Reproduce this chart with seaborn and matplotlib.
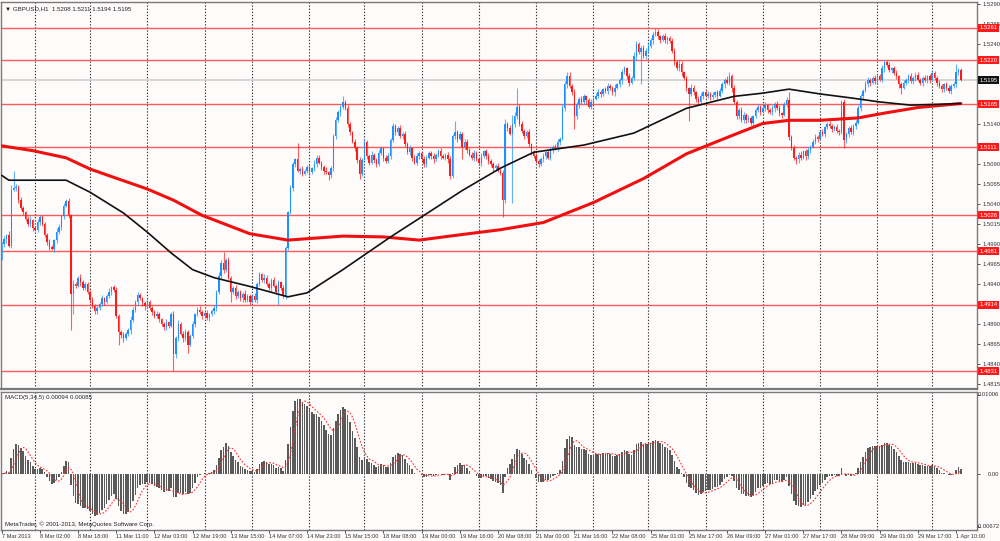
import numpy as np
import pandas as pd
import matplotlib
matplotlib.use("Agg")
import matplotlib.pyplot as plt
import matplotlib.transforms as mtransforms
import seaborn as sns

# GBPUSD H1, prices in pips: 5195 -> 1.5195
open_first = 4972
close_pips = [
    4990, 4996, 5001, 4988, 5058, 5060, 5062, 5045, 5035, 5030,
    5022, 5015, 5020, 5010, 5008, 5018, 5024, 5015, 5002, 4993,
    4986, 4984, 4995, 5005, 5012, 5025, 5038, 5044, 5026, 4927,
    4940, 4938, 4948, 4942, 4935, 4940, 4930, 4920, 4912, 4906,
    4910, 4915, 4922, 4918, 4925, 4930, 4936, 4932, 4900, 4880,
    4876, 4872, 4878, 4882, 4895, 4908, 4918, 4926, 4922, 4916,
    4912, 4918, 4910, 4905, 4900, 4902, 4896, 4890, 4886, 4892,
    4888, 4902, 4852, 4872, 4890, 4878, 4872, 4880, 4864, 4875,
    4890, 4902, 4908, 4905, 4900, 4904, 4898, 4902, 4906, 4910,
    4930, 4950, 4966, 4958, 4970, 4948, 4930, 4935, 4925, 4930,
    4922, 4928, 4920, 4925, 4918, 4925, 4920, 4940, 4952, 4945,
    4948, 4940, 4935, 4945, 4938, 4930, 4942, 4935, 4925, 4985,
    5030, 5060, 5090, 5096, 5082, 5084, 5078, 5082, 5086, 5080,
    5085, 5090, 5098, 5092, 5086, 5082, 5080, 5076, 5085, 5125,
    5145, 5155, 5162, 5168, 5160, 5140, 5130, 5118, 5110, 5095,
    5078, 5095, 5118, 5100, 5092, 5102, 5095, 5090, 5104, 5110,
    5098, 5094, 5100, 5120, 5138, 5130, 5135, 5125, 5128, 5115,
    5105, 5110, 5098, 5092, 5100, 5104, 5096, 5090, 5098, 5104,
    5100, 5096, 5102, 5106, 5100, 5098, 5102, 5096, 5075, 5125,
    5130, 5122, 5128, 5112, 5118, 5108, 5102, 5098, 5104, 5096,
    5092, 5100, 5106, 5100, 5094, 5090, 5085, 5088, 5082, 5079,
    5045, 5140, 5135, 5128, 5140, 5150, 5162, 5140, 5132, 5125,
    5130, 5115, 5105, 5100, 5094, 5090, 5096, 5100, 5105, 5098,
    5108, 5112, 5110, 5118, 5122, 5160, 5190, 5200, 5188, 5180,
    5150, 5165, 5172, 5168, 5175, 5170, 5162, 5168, 5172, 5176,
    5180, 5178, 5184, 5182, 5188, 5185, 5180, 5186, 5190, 5195,
    5205, 5210, 5200, 5192, 5198, 5225, 5240, 5230, 5236, 5226,
    5232, 5238, 5245, 5252, 5256, 5250, 5246, 5250, 5245, 5248,
    5244, 5232, 5218, 5210, 5216, 5205, 5198, 5185, 5178, 5186,
    5180, 5172, 5168, 5176, 5180, 5176, 5178, 5174, 5177, 5180,
    5176, 5182, 5190, 5196, 5192, 5200, 5185, 5168, 5150, 5158,
    5145, 5152, 5145, 5148, 5142, 5150, 5158, 5162, 5156, 5160,
    5164, 5158, 5155, 5160, 5166, 5160, 5154, 5152, 5165, 5170,
    5124, 5110, 5098, 5096, 5102, 5098, 5106, 5100, 5108, 5112,
    5118, 5124, 5122, 5130, 5128, 5136, 5140, 5138, 5134, 5136,
    5132, 5130, 5168, 5120, 5128, 5135, 5130, 5138, 5142, 5160,
    5175, 5182, 5190, 5196, 5192, 5198, 5194, 5200, 5196, 5210,
    5218, 5214, 5208, 5210, 5204, 5200, 5190, 5186, 5192, 5196,
    5200, 5194, 5198, 5202, 5196, 5192, 5198, 5195, 5200, 5196,
    5204, 5198, 5192, 5188, 5184, 5190, 5185, 5182, 5188, 5190,
    5206, 5208, 5195,
]
# wick length above / below the body, pips
wick_up = [
    3, 4, 2, 5, 6, 22, 3, 2, 4, 3,
    2, 3, 5, 2, 3, 4, 3, 2, 3, 2,
    4, 3, 2, 5, 3, 2, 4, 3, 4, 2,
    5, 3, 2, 4, 3, 2, 3, 2, 4, 3,
    2, 3, 4, 2, 3, 5, 2, 3, 4, 2,
    3, 4, 2, 3, 5, 3, 2, 4, 3, 2,
    3, 4, 2, 3, 2, 4, 3, 2, 3, 4,
    2, 3, 4, 3, 5, 2, 3, 4, 2, 3,
    4, 2, 3, 5, 2, 3, 4, 2, 3, 4,
    3, 5, 4, 14, 3, 4, 2, 3, 4, 2,
    3, 2, 4, 3, 2, 3, 4, 2, 3, 2,
    4, 3, 2, 3, 4, 2, 3, 2, 4, 3,
    2, 4, 3, 2, 21, 3, 4, 2, 3, 4,
    2, 5, 4, 3, 2, 3, 4, 2, 3, 3,
    4, 3, 2, 7, 3, 4, 3, 2, 4, 3,
    4, 3, 4, 2, 3, 4, 2, 3, 4, 3,
    2, 3, 4, 3, 4, 2, 3, 4, 2, 3,
    3, 4, 2, 3, 4, 2, 3, 4, 3, 2,
    3, 4, 2, 3, 4, 3, 2, 3, 4, 3,
    14, 3, 4, 2, 3, 4, 2, 3, 4, 2,
    3, 4, 2, 3, 4, 2, 3, 2, 4, 3,
    4, 6, 3, 4, 12, 5, 23, 3, 4, 2,
    3, 4, 2, 3, 4, 2, 3, 4, 2, 3,
    4, 2, 3, 4, 2, 5, 4, 5, 6, 3,
    4, 3, 2, 4, 3, 2, 3, 4, 2, 3,
    4, 3, 2, 3, 4, 2, 3, 4, 2, 3,
    4, 3, 2, 4, 3, 5, 4, 3, 2, 3,
    4, 5, 3, 3, 4, 3, 2, 3, 4, 2,
    3, 4, 3, 2, 4, 3, 2, 3, 2, 4,
    3, 2, 4, 3, 2, 3, 4, 2, 3, 2,
    3, 4, 3, 2, 4, 6, 3, 4, 3, 2,
    4, 3, 2, 4, 3, 2, 3, 4, 2, 3,
    4, 2, 3, 4, 2, 3, 4, 2, 3, 4,
    11, 3, 4, 2, 3, 4, 2, 3, 4, 2,
    3, 4, 2, 3, 4, 2, 3, 4, 2, 3,
    4, 2, 3, 4, 2, 3, 4, 2, 3, 4,
    3, 2, 4, 3, 2, 3, 4, 2, 3, 4,
    2, 3, 4, 2, 3, 4, 2, 3, 4, 2,
    3, 4, 2, 3, 4, 2, 3, 4, 2, 3,
    4, 3, 2, 4, 3, 2, 3, 4, 2, 3,
    10, 2, 3,
]
wick_dn = [
    2, 3, 4, 2, 3, 2, 4, 3, 2, 4,
    3, 2, 4, 3, 2, 3, 4, 2, 3, 4,
    3, 2, 4, 3, 2, 4, 3, 2, 3, 44,
    25, 3, 2, 4, 3, 2, 3, 4, 2, 3,
    4, 2, 3, 4, 2, 3, 4, 2, 3, 16,
    3, 4, 2, 3, 4, 2, 3, 4, 2, 3,
    4, 2, 3, 4, 2, 3, 4, 2, 3, 4,
    3, 2, 21, 4, 3, 2, 4, 3, 10, 2,
    3, 4, 2, 3, 4, 2, 3, 4, 2, 3,
    4, 3, 2, 4, 3, 2, 13, 3, 4, 2,
    3, 4, 2, 3, 4, 2, 3, 4, 2, 3,
    4, 2, 3, 4, 2, 3, 16, 2, 3, 4,
    3, 2, 4, 3, 2, 4, 3, 2, 3, 4,
    2, 3, 4, 2, 3, 4, 2, 6, 3, 4,
    3, 2, 4, 3, 2, 3, 4, 2, 3, 4,
    6, 3, 2, 4, 3, 2, 3, 4, 2, 3,
    4, 2, 3, 4, 2, 3, 4, 2, 3, 4,
    2, 3, 4, 2, 3, 4, 2, 3, 4, 2,
    3, 4, 2, 3, 4, 2, 3, 4, 3, 2,
    3, 4, 2, 16, 3, 4, 2, 3, 4, 2,
    3, 4, 2, 3, 4, 2, 3, 4, 2, 3,
    21, 3, 4, 2, 86, 3, 4, 2, 3, 4,
    2, 3, 4, 2, 3, 4, 2, 3, 4, 2,
    3, 4, 2, 3, 4, 2, 3, 4, 2, 3,
    16, 3, 4, 2, 3, 4, 2, 3, 4, 2,
    3, 4, 2, 3, 4, 2, 3, 4, 2, 3,
    4, 2, 3, 4, 2, 3, 4, 2, 40, 3,
    4, 2, 3, 4, 2, 3, 4, 2, 3, 4,
    2, 3, 4, 2, 3, 4, 2, 3, 34, 2,
    3, 4, 2, 3, 4, 2, 3, 4, 2, 3,
    4, 2, 3, 4, 2, 3, 4, 2, 3, 4,
    2, 3, 4, 2, 3, 4, 2, 3, 4, 2,
    3, 4, 2, 3, 4, 2, 3, 4, 2, 3,
    4, 2, 3, 6, 4, 3, 2, 5, 3, 4,
    2, 3, 4, 2, 3, 4, 2, 3, 4, 2,
    3, 4, 2, 10, 3, 4, 2, 3, 4, 2,
    3, 4, 2, 3, 4, 2, 3, 4, 2, 3,
    4, 2, 3, 4, 2, 3, 4, 8, 2, 3,
    4, 2, 3, 4, 2, 3, 4, 2, 3, 4,
    2, 3, 4, 2, 3, 4, 2, 3, 4, 2,
    3, 4, 1,
]

# moving averages (bar index, pips)
ma_black_bar = [0, 3, 27, 37, 51, 61, 71, 80, 89, 104, 120, 128, 143, 163, 177,
                193, 209, 223, 244, 265, 287, 307, 319, 330, 343, 356, 368, 381, 392, 402]
ma_black = [5076, 5070, 5070, 5055, 5029, 5005, 4979, 4958, 4948, 4937, 4924, 4929, 4958, 4999, 5026,
            5057, 5085, 5105, 5114, 5129, 5160, 5175, 5179, 5184, 5178, 5173, 5168, 5164, 5165, 5166]
ma_red_bar = [0, 13, 27, 37, 61, 72, 84, 104, 120, 143, 160, 175, 193, 209, 227,
              248, 269, 287, 307, 319, 330, 343, 359, 370, 384, 402]
ma_red = [5113, 5107, 5098, 5084, 5059, 5045, 5026, 5003, 4995, 5000, 4999, 4995, 5002, 5008, 5017,
          5042, 5072, 5103, 5127, 5141, 5145, 5145, 5148, 5154, 5161, 5166]

levels = [1.5261, 1.5220, 1.5165, 1.5111, 1.5026, 1.4981, 1.4914, 1.4831]
bid = 1.5195
price_ticks = [1.5290, 1.5265, 1.5240, 1.5140, 1.5090, 1.5065, 1.5040,
               1.5015, 1.4990, 1.4965, 1.4940, 1.4890, 1.4865, 1.4840, 1.4815]
macd_ticks = [0.01006, 0.0, -0.00672]
macd_tick_labels = ["0.01006", "0.00", "-0.00672"]
day_lines = [14, 37, 61, 85, 105, 129, 152, 176, 200, 224, 248, 271, 295, 319, 343, 367, 390]
time_labels = ["7 Mar 2013", "8 Mar 02:00", "8 Mar 18:00", "11 Mar 11:00", "12 Mar 03:00",
               "12 Mar 19:00", "13 Mar 15:00", "14 Mar 07:00", "14 Mar 23:00", "15 Mar 15:00",
               "18 Mar 08:00", "19 Mar 00:00", "19 Mar 16:00", "20 Mar 08:00", "21 Mar 00:00",
               "21 Mar 16:00", "22 Mar 08:00", "25 Mar 01:00", "25 Mar 17:00", "26 Mar 09:00",
               "27 Mar 01:00", "27 Mar 17:00", "28 Mar 09:00", "29 Mar 01:00", "29 Mar 17:00",
               "1 Apr 10:00"]

sns.set_theme(style="white")
plt.rcParams['font.family'] = ['Liberation Sans', 'DejaVu Sans']

n = len(close_pips)
idx = np.arange(n)
c = np.array(close_pips) / 10000 + 1
o = np.concatenate([[open_first / 10000 + 1], c[:-1]])
hi = np.maximum(o, c) + np.array(wick_up) / 10000
lo = np.minimum(o, c) - np.array(wick_dn) / 10000
up = c >= o

df = pd.DataFrame({"bar": idx, "close": c})
fast = df["close"].ewm(span=5, adjust=False).mean()
slow = df["close"].ewm(span=34, adjust=False).mean()
df["macd"] = fast - slow
df["signal"] = df["macd"].rolling(5, min_periods=1).mean()

bg = "#fefbfb"
fs = 4.2
fig = plt.figure(figsize=(10, 5.41), dpi=100, facecolor=bg)
ax = fig.add_axes([0.001, 1 - 389 / 541, 0.976, 387 / 541], facecolor=bg)
axm = fig.add_axes([0.001, 1 - 530 / 541, 0.976, 138 / 541], facecolor=bg, sharex=ax)

x0, x1 = -0.3, 408.8
for a in (ax, axm):
    for d in day_lines:
        a.axvline(d, color="#333333", lw=0.8, ls=(0, (1.2, 1.6)), zorder=1)
    for s in a.spines.values():
        s.set_color("#7a7a7a")
        s.set_linewidth(1.0)
ax.spines["bottom"].set_linewidth(1.6)

# horizontal levels and bid line
for lv in levels:
    ax.axhline(lv, color="#ff5a5a", lw=1.0, zorder=2)
ax.axhline(bid, color="#cfcfcf", lw=1.2, zorder=2)

# candles
col = np.where(up, "#1e90ff", "#ff1a1a")
ax.vlines(idx, lo, hi, colors=col, lw=0.8, alpha=0.7, zorder=3)
body_h = np.maximum(np.abs(c - o), 0.00012)
ax.bar(idx, body_h, bottom=np.minimum(o, c), width=0.62, color=col, linewidth=0, zorder=4)

# moving averages
sns.lineplot(x=ma_red_bar, y=np.array(ma_red) / 10000 + 1, ax=ax, color="#f01010", lw=2.2, zorder=5)
sns.lineplot(x=ma_black_bar, y=np.array(ma_black) / 10000 + 1, ax=ax, color="#111111", lw=1.2, zorder=6)

ax.set_xlim(x0, x1)
ax.set_ylim(1.48086, 1.52931)
ax.yaxis.tick_right()
ax.set_yticks(price_ticks)
ax.set_yticklabels([f"{t:.4f}" for t in price_ticks])
ax.tick_params(axis="y", length=2.5, width=0.6, colors="#333333", labelsize=fs, pad=1.2, right=True)
ax.tick_params(axis="x", bottom=False, labelbottom=False)
ax.set_xlabel("")
ax.set_ylabel("")

# price boxes on the scale
tr = mtransforms.blended_transform_factory(ax.transAxes, ax.transData)
for lv in levels:
    ax.text(1.0025, lv, f"{lv:.4f}", transform=tr, fontsize=fs, color="white", va="center", ha="left",
            bbox=dict(boxstyle="square,pad=0.25", fc="#ff1a1a", ec="none"), clip_on=False, zorder=10)
ax.text(1.0025, bid, f"{bid:.4f}", transform=tr, fontsize=fs, color="white", va="center", ha="left",
        bbox=dict(boxstyle="square,pad=0.25", fc="#111111", ec="none"), clip_on=False, zorder=10)

ax.text(0.004, 0.988, "\u25bc GBPUSD,H1  1.5208 1.5211 1.5194 1.5195", transform=ax.transAxes,
        fontsize=fs + 0.2, color="#222222", va="top", ha="left")

# MACD panel
sns.barplot(data=df, x="bar", y="macd", ax=axm, native_scale=True, color="#5a5a5a",
            width=0.66, linewidth=0, saturation=1)
sns.lineplot(data=df, x="bar", y="signal", ax=axm, color="#ff3030", lw=0.8, ls=(0, (1.5, 1.5)), zorder=5)
axm.set_xlim(x0, x1)
axm.set_ylim(-0.00711, 0.01042)
axm.yaxis.tick_right()
axm.set_yticks(macd_ticks)
axm.set_yticklabels([])
axm.tick_params(axis="y", length=2.5, width=0.6, colors="#333333", right=True)
trm = mtransforms.blended_transform_factory(fig.transFigure, axm.transData)
for t, lab in zip(macd_ticks, macd_tick_labels):
    axm.text(0.9995, t, lab, transform=trm, fontsize=fs, color="#333333", va="center", ha="right",
             clip_on=False)
axm.set_xticks(np.arange(0, 16 * len(time_labels), 16))
axm.set_xticklabels(time_labels)
for lab in axm.get_xticklabels():
    lab.set_horizontalalignment("left")
axm.tick_params(axis="x", length=2, width=0.6, colors="#333333", labelsize=4.1, pad=1.2, bottom=True)
axm.set_xlabel("")
axm.set_ylabel("")
axm.text(0.004, 0.975, "MACD(5,34,5) 0.00094 0.00085", transform=axm.transAxes,
         fontsize=fs + 0.2, color="#222222", va="top", ha="left")
axm.text(0.004, 0.02, "MetaTrader, \u00a9 2001-2013, MetaQuotes Software Corp.", transform=axm.transAxes,
         fontsize=fs + 0.2, color="#222222", va="bottom", ha="left")

fig.savefig("out.png", dpi=100, facecolor=bg)
